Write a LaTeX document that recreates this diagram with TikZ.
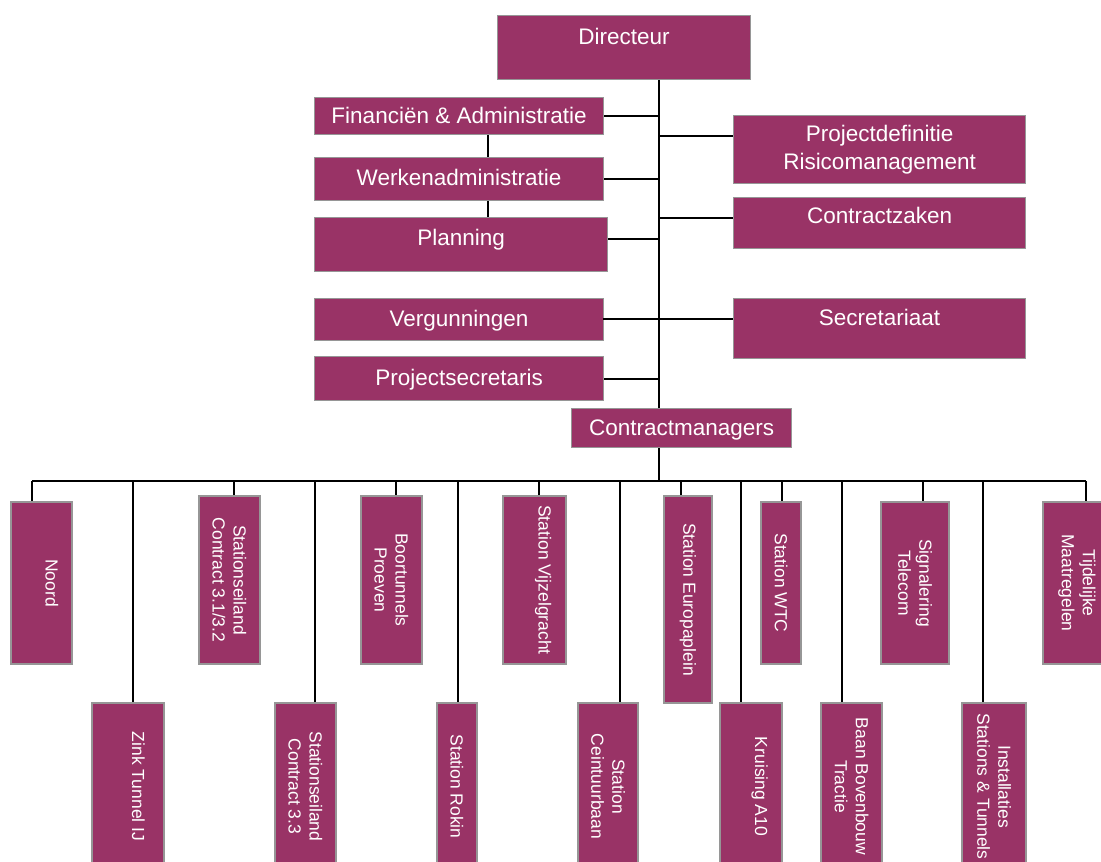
\documentclass[tikz,border=0pt]{standalone}
\usepackage{fontspec}
\newfontfamily\boxfont{Liberation Sans}
\definecolor{plum}{RGB}{153,51,102}
\definecolor{edge}{RGB}{150,150,150}
\begin{document}
\begin{tikzpicture}[x=1pt,y=-1pt,
  unit/.style={draw=edge, line width=1.1pt, fill=plum, text=white, inner sep=0pt},
  hbox/.style={unit, anchor=north west, font=\boxfont\fontsize{22.5pt}{28pt}\selectfont},
  vbox/.style={unit, rotate=-90, align=center, font=\boxfont\fontsize{17.5pt}{21pt}\selectfont},
  link/.style={draw=black, line width=1.9pt}]
\useasboundingbox (0,0) rectangle (1101,862);
\clip (0,0) rectangle (1101,862);

% ---- staff boxes ----
\node[hbox, minimum width=253pt, text height=29pt, text depth=35pt] (dir) at (497,15) {Directeur};
\node[hbox, minimum width=289pt, text height=26pt, text depth=11pt] (fin) at (314,97) {Financiën \& Administratie};
\node[hbox, minimum width=289pt, text height=28pt, text depth=15pt] (wa) at (314,157) {Werkenadministratie};
\node[hbox, minimum width=293pt, text height=28pt, text depth=26pt] (plan) at (314,217) {Planning};
\node[hbox, minimum width=289pt, text height=28pt, text depth=14pt] (verg) at (314,298) {Vergunningen};
\node[hbox, minimum width=289pt, text height=29pt, text depth=15pt] (ps) at (314,356) {Projectsecretaris};
\node[hbox, minimum width=292pt, minimum height=68pt, align=center] (pd) at (733,115) {Projectdefinitie\\Risicomanagement};
\node[hbox, minimum width=292pt, text height=26pt, text depth=25pt] (cz) at (733,197) {Contractzaken};
\node[hbox, minimum width=292pt, text height=27pt, text depth=33pt] (sec) at (733,298) {Secretariaat};
\node[hbox, minimum width=220pt, text height=27pt, text depth=12pt] (cm) at (571,408) {Contractmanagers};

% ---- contract boxes, upper row ----
\node[vbox, minimum width=162pt, minimum height=61pt] (noord) at (41.5,583) {Noord\\\mbox{}};
\node[vbox, minimum width=168pt, minimum height=61pt] (seA) at (229.5,580) {Stationseiland\\Contract 3.1/3.2};
\node[vbox, minimum width=168pt, minimum height=61pt] (boor) at (391.5,580) {Boortunnels\\Proeven};
\node[vbox, minimum width=168pt, minimum height=63pt] (vijz) at (534.5,580) {Station Vijzelgracht\\\mbox{}};
\node[vbox, minimum width=207pt, minimum height=48pt] (euro) at (688,599.5) {Station Europaplein};
\node[vbox, minimum width=162pt, minimum height=40pt] (wtc) at (781,583) {Station WTC};
\node[vbox, minimum width=162pt, minimum height=68pt] (sig) at (915,583) {Signalering\\Telecom};
\node[vbox, minimum width=162pt, minimum height=68pt] (tijd) at (1077,583) {Tijdelijke\\Maatregelen};

% ---- contract boxes, lower row ----
\node[vbox, minimum width=167pt, minimum height=72pt] (zink) at (128,786.5) {Zink Tunnel IJ\\\mbox{}};
\node[vbox, minimum width=167pt, minimum height=61pt] (seB) at (305.5,786.5) {Stationseiland\\Contract 3.3};
\node[vbox, minimum width=167pt, minimum height=40pt] (rokin) at (457,786.5) {Station Rokin};
\node[vbox, minimum width=167pt, minimum height=60pt] (ceint) at (608,786.5) {Station\\Ceintuurbaan};
\node[vbox, minimum width=167pt, minimum height=62pt] (a10) at (751,786.5) {Kruising A10\\\mbox{}};
\node[vbox, minimum width=167pt, minimum height=61pt] (baan) at (851.5,786.5) {Baan Bovenbouw\\Tractie};
\node[vbox, minimum width=167pt, minimum height=64pt] (inst) at (994,786.5) {Installaties\\Stations \& Tunnels};

% ---- reference coordinates for the line work ----
\coordinate (trunk) at (659,0);
\coordinate (branch) at (488,0);
\coordinate (bus) at (0,481);
\path ([yshift=-21pt]pd.north west) coordinate (pdin);
\path ([yshift=6pt]cz.base west) coordinate (czin);
\path ([yshift=7pt]plan.base east) coordinate (planout);
\path ([yshift=-21pt]sec.north west) coordinate (secin);

% ---- main trunk ----
\draw[link] (dir.south -| trunk) -- (cm.north -| trunk);
\draw[link] (cm.south -| trunk) -- (bus -| trunk);

% ---- staff connectors ----
\draw[link] (fin.east) -- (fin.east -| trunk);
\draw[link] (wa.east) -- (wa.east -| trunk);
\draw[link] (planout) -- (planout -| trunk);
\draw[link] (verg.east) -- (secin -| verg.east) -- (secin);
\draw[link] (ps.east) -- (ps.east -| trunk);
\draw[link] (pdin -| trunk) -- (pdin);
\draw[link] (czin -| trunk) -- (czin);
\draw[link] (fin.south -| branch) -- (wa.north -| branch);
\draw[link] (wa.south -| branch) -- (plan.north -| branch);

% ---- contract bus and drops ----
\foreach \name/\xd in {noord/32, zink/133, seA/234, seB/315, boor/396,
                        rokin/458, vijz/539, ceint/620, euro/681, a10/741,
                        wtc/782, baan/842, sig/923, inst/983, tijd/1086}
  \draw[link] (bus -| \xd,0) -- (\xd,0 |- \name.west);
\draw[link] (bus -| 32,0) -- (bus -| 1086,0);
\end{tikzpicture}
\end{document}
